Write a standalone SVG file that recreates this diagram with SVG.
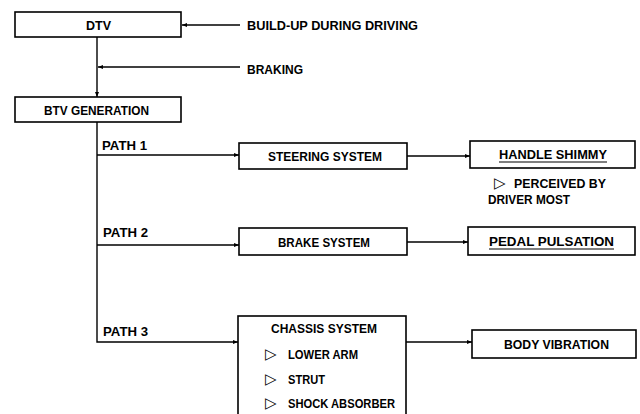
<svg xmlns="http://www.w3.org/2000/svg" width="640" height="414" viewBox="0 0 640 414">
<style>
.box{fill:#fff;stroke:#000;stroke-width:1.6}
.ln{fill:none;stroke:#000;stroke-width:1.4}
text{font-family:"Liberation Sans","DejaVu Sans",sans-serif;font-size:13px;font-weight:bold;fill:#000}
.tri{font-family:"DejaVu Sans",sans-serif;font-weight:normal;font-size:15px}
.ul{stroke:#000;stroke-width:1.2}
</style>
<defs>
<marker id="ah" viewBox="0 0 10 10" refX="10" refY="5" markerWidth="5" markerHeight="5" orient="auto" markerUnits="userSpaceOnUse">
<path d="M0,1 L10,5 L0,9 z" fill="#000"/>
</marker>
</defs>
<rect width="640" height="414" fill="#fff"/>
<g id="connectors">
<line class="ln" x1="240" y1="25" x2="182" y2="25" marker-end="url(#ah)"/>
<line class="ln" x1="97" y1="37" x2="97" y2="97" marker-end="url(#ah)"/>
<line class="ln" x1="240" y1="67" x2="98" y2="67" marker-end="url(#ah)"/>
<polyline class="ln" points="97,122 97,342 238,342" marker-end="url(#ah)"/>
<line class="ln" x1="97" y1="155" x2="239" y2="155" marker-end="url(#ah)"/>
<line class="ln" x1="97" y1="245" x2="239" y2="245" marker-end="url(#ah)"/>
<line class="ln" x1="407" y1="156" x2="470" y2="156" marker-end="url(#ah)"/>
<line class="ln" x1="407" y1="242" x2="468" y2="242" marker-end="url(#ah)"/>
<line class="ln" x1="406" y1="342" x2="472" y2="342" marker-end="url(#ah)"/>
<text x="102" y="150" textLength="45" lengthAdjust="spacingAndGlyphs">PATH 1</text>
<text x="103" y="237" textLength="45" lengthAdjust="spacingAndGlyphs">PATH 2</text>
<text x="103" y="336" textLength="45" lengthAdjust="spacingAndGlyphs">PATH 3</text>
<text x="247" y="30" textLength="171" lengthAdjust="spacingAndGlyphs">BUILD-UP DURING DRIVING</text>
<text x="247" y="74" textLength="56" lengthAdjust="spacingAndGlyphs">BRAKING</text>
</g>
<g id="dtv">
<rect class="box" x="15" y="12" width="166" height="25"/>
<text x="86" y="30" textLength="25" lengthAdjust="spacingAndGlyphs">DTV</text>
</g>
<g id="btv">
<rect class="box" x="15" y="97" width="166" height="25"/>
<text x="44" y="115" textLength="105" lengthAdjust="spacingAndGlyphs">BTV GENERATION</text>
</g>
<g id="steering">
<rect class="box" x="239" y="143" width="168" height="26"/>
<text x="268" y="161" textLength="114" lengthAdjust="spacingAndGlyphs">STEERING SYSTEM</text>
</g>
<g id="handle">
<rect class="box" x="470" y="141" width="165" height="27"/>
<text x="499" y="159" textLength="108" lengthAdjust="spacingAndGlyphs">HANDLE SHIMMY</text>
<line class="ul" x1="499" y1="162" x2="607" y2="162"/>
</g>
<g id="perceived">
<text y="188"><tspan class="tri" x="494">▷</tspan><tspan x="514" textLength="92" lengthAdjust="spacingAndGlyphs">PERCEIVED BY</tspan></text>
<text x="488" y="204" textLength="82" lengthAdjust="spacingAndGlyphs">DRIVER MOST</text>
</g>
<g id="brake">
<rect class="box" x="239" y="228" width="168" height="27"/>
<text x="278" y="247" textLength="92" lengthAdjust="spacingAndGlyphs">BRAKE SYSTEM</text>
</g>
<g id="pedal">
<rect class="box" x="468" y="227" width="167" height="28"/>
<text x="489" y="246" textLength="125" lengthAdjust="spacingAndGlyphs">PEDAL PULSATION</text>
<line class="ul" x1="489" y1="249" x2="614" y2="249"/>
</g>
<g id="chassis">
<rect class="box" x="238" y="316" width="168" height="110"/>
<text x="271" y="333" textLength="106" lengthAdjust="spacingAndGlyphs">CHASSIS SYSTEM</text>
<text y="359"><tspan class="tri" x="265">▷</tspan><tspan x="288" textLength="70" lengthAdjust="spacingAndGlyphs">LOWER ARM</tspan></text>
<text y="384"><tspan class="tri" x="265">▷</tspan><tspan x="288" textLength="37" lengthAdjust="spacingAndGlyphs">STRUT</tspan></text>
<text y="408"><tspan class="tri" x="265">▷</tspan><tspan x="288" textLength="107" lengthAdjust="spacingAndGlyphs">SHOCK ABSORBER</tspan></text>
</g>
<g id="body">
<rect class="box" x="472" y="330" width="164" height="28"/>
<text x="504" y="349" textLength="105" lengthAdjust="spacingAndGlyphs">BODY VIBRATION</text>
</g>
</svg>
